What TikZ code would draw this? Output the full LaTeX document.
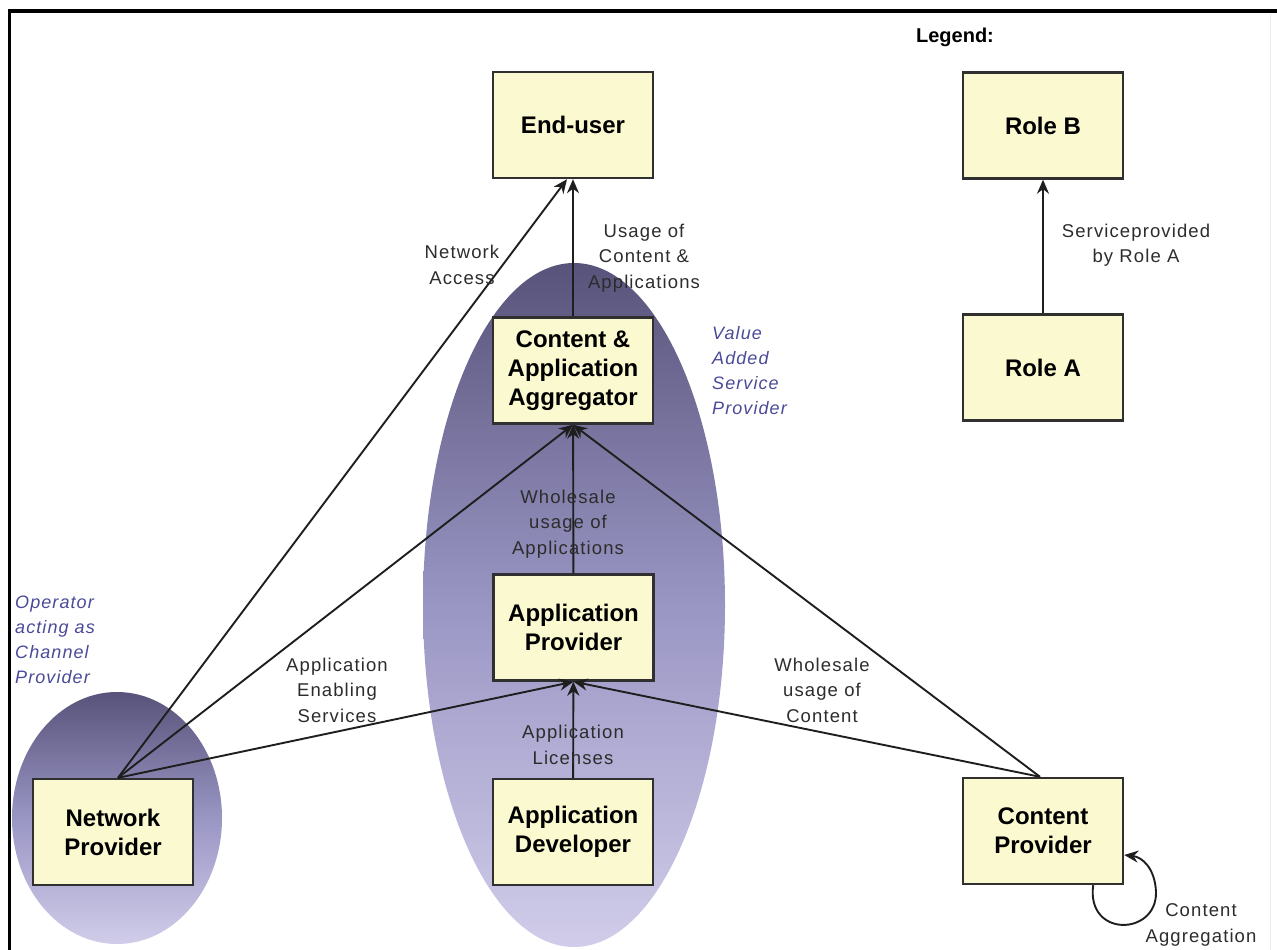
\documentclass[tikz,border=0pt]{standalone}
\usepackage{fontspec}
\setmainfont{Liberation Sans}
\newfontfamily\lblfont[LetterSpace=6]{Liberation Sans}
\usetikzlibrary{arrows.meta,shapes.geometric}
\definecolor{boxfill}{HTML}{FBF9CF}
\definecolor{boxline}{HTML}{303030}
\definecolor{linecol}{HTML}{1E1E1E}
\definecolor{lblcol}{HTML}{2C2C2C}
\definecolor{notecol}{HTML}{4B4A98}
\definecolor{shadetop}{HTML}{57537A}
\definecolor{shademid}{HTML}{9A96C4}
\definecolor{shadebot}{HTML}{D0CCE9}
\tikzset{
  rolebox/.style={draw=boxline, line width=2.4bp, fill=boxfill,
    minimum width=160bp, minimum height=106bp, align=center,
    font=\bfseries\fontsize{24bp}{29bp}\selectfont, inner sep=0pt},
  flow/.style={draw=linecol, line width=1.9bp,
    -{Stealth[length=14bp, width=12bp]}},
  lbl/.style={text=lblcol, align=center, inner sep=0pt,
    font=\lblfont\fontsize{18.5bp}{25.5bp}\selectfont},
  note/.style={text=notecol, align=left, inner sep=0pt, anchor=north west,
    font=\lblfont\itshape\fontsize{18bp}{25bp}\selectfont},
  group/.style={ellipse, draw=none, inner sep=0pt, shading angle=0,
    top color=shadetop, bottom color=shadebot, middle color=shademid}
}
\begin{document}
\begin{tikzpicture}[x=1bp, y=-1bp]
\useasboundingbox (0,0) rectangle (1277,950);
\begin{scope}
\clip (0,0) rectangle (1277,950);
% shaded groupings
\node[group, minimum width=302bp, minimum height=684bp] (vasp) at (574,605) {};
\node[group, minimum width=210bp, minimum height=252bp] (chan) at (117,818) {};
\end{scope}

% frame
\draw[line width=3.5bp, black] (8,11) -- (1277,11);
\draw[line width=3bp, black] (9.5,11) -- (9.5,950);
\draw[line width=1bp, black!8] (1270,14) -- (1270,950);

% roles
\node[rolebox] (eu)  at (573,125)   {End-user};
\node[rolebox] (agg) at (573,370.5) {Content \&\\Application\\Aggregator};
\node[rolebox] (ap)  at (573.5,627.5) {Application\\Provider};
\node[rolebox] (ad)  at (573,832)   {Application\\Developer};
\node[rolebox] (np)  at (113,832)   {Network\\Provider};
\node[rolebox] (cp)  at (1043,831)  {Content\\Provider};
\node[rolebox] (rb)  at (1043,125.5) {Role B};
\node[rolebox] (ra)  at (1043,367.5) {Role A};

% legend title
\node[font=\bfseries\fontsize{20bp}{24bp}\selectfont, inner sep=0pt] (leg) at (955,37) {Legend:};

% service flows
\draw[flow] ([xshift=5bp]np.north) -- ([xshift=-6bp]eu.south);
\draw[flow] ([xshift=5bp]np.north) -- (agg.south);
\draw[flow] ([xshift=5bp]np.north) -- (ap.south);
\draw[flow] (agg) -- (eu);
\draw[flow] (ap) -- (agg);
\draw[flow] (ad) -- (ap);
\draw[flow] ([xshift=-3bp]cp.north) -- (ap.south);
\draw[flow] ([xshift=-3bp]cp.north) -- (agg.south);
\draw[flow] (ra) -- (rb);
\draw[flow] ([xshift=-31bp]cp.south east)
  .. controls (1086,938) and (1157,936) .. (1156,892)
  .. controls (1155,868) and (1142,857) .. ([yshift=-24bp]cp.east);

% flow labels
\node[lbl] (l1) at (462,265) {Network\\Access};
\node[lbl] (l2) at (644,258) {Usage of\\Content \&\\Applications};
\node[lbl] (l3) at (568,524) {Wholesale\\usage of\\Applications};
\node[lbl] (l4) at (337,690) {Application\\Enabling\\Services};
\node[lbl] (l5) at (822,690) {Wholesale\\usage of\\Content};
\node[lbl] (l6) at (573,745) {Application\\Licenses};
\node[lbl] (l7) at (1136,245) {Serviceprovided\\by Role A};
\node[lbl] (l8) at (1201,925) {Content\\Aggregation};

% group notes
\node[note] (n1) at (712,326) {Value\\Added\\Service\\Provider};
\node[note] (n2) at (15,596) {Operator\\acting as\\Channel\\Provider};
\end{tikzpicture}
\end{document}
